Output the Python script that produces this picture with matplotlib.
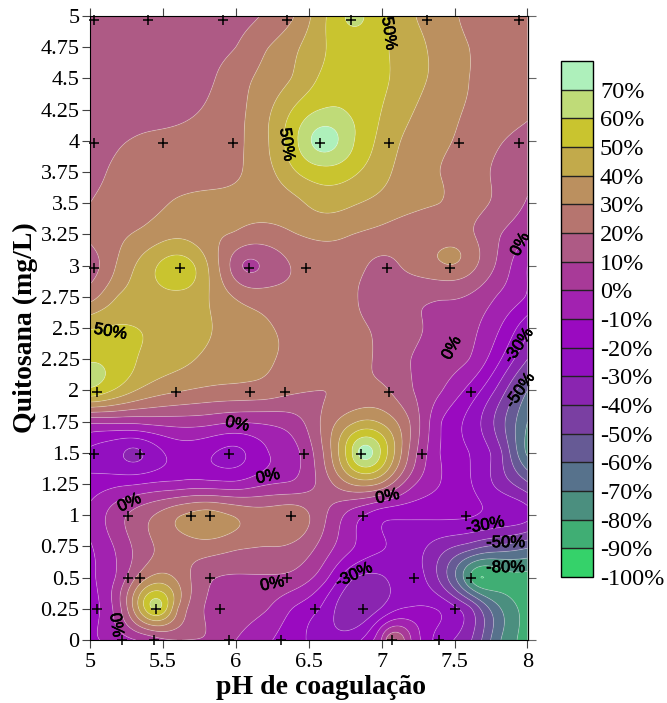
import numpy as np
import matplotlib
matplotlib.use("Agg")
import matplotlib.pyplot as plt
import matplotlib.patheffects as pe

x_cols = [5.0, 5.2, 5.4, 5.6, 5.8, 6.0, 6.2, 6.4, 6.6, 6.8, 7.0, 7.2, 7.4, 7.6, 7.8, 8.0]
y_rows = [5, 4.75, 4.5, 4.25, 4, 3.75, 3.5, 3.25, 3, 2.75, 2.5, 2.25, 2, 1.75, 1.5, 1.25, 1, 0.75, 0.5, 0.25, 0]
z_rows = [
    [12, 13, 14, 11, 15, 17, 21, 30, 48, 62, 53, 41.5, 34, 28, 24, 21],
    [11, 12, 13, 14, 16, 20, 29, 38, 49, 55, 51.5, 45, 36, 30, 25, 22],
    [12, 13, 14, 15, 18, 26, 33, 41, 52, 56, 52, 44, 37, 30, 26, 23],
    [13, 14, 15, 17, 21, 27, 37, 51, 60.5, 58, 50, 41, 34, 29, 25, 22],
    [15, 19, 22, 23, 25, 28, 38, 57, 75, 61, 47, 37, 32, 27, 21, 16],
    [17, 22, 24, 26, 27, 29, 36, 49, 56, 52, 43, 35, 30, 25, 18, 12],
    [20, 24, 27, 31, 32, 32, 33, 37, 44, 41, 37, 33, 30, 24, 18, 9],
    [22, 28, 33, 38, 33, 29, 26, 29.5, 32, 30, 27, 24, 23, 21.5, 11, 1],
    [15, 32, 46, 56, 41, 15, 12, 21, 25, 24, 17, 23, 28, 24, 8, -10],
    [26, 41, 45, 47, 41, 29, 25, 24, 23, 21, 15, 12, 11, 9, -1, -11],
    [49, 51, 49, 46, 41, 36, 31, 28, 25, 22, 18, 12, 8, 3, -9, -27],
    [59, 55, 47, 43, 38, 34, 31, 28, 25, 23, 18, 10, 5, 0, -18, -40],
    [58, 47, 36, 31, 28, 27, 26, 21.5, 20, 21, 22, 11, 1, -13, -33, -60],
    [3, 3, 4, 5, 4, 1, 2, 6, 22, 38, 38, 19, -9, -23, -44, -70],
    [-22, -28, -27, -16, -18, -23, -11, -3, 20, 60, 58, 17, -10, -20, -36, -72],
    [-16, -12, -9, -7, -6, -7, -1, 2, 14, 31, 28, 3, -10, -19, -33, -48],
    [-8, 7, 18, 29, 35, 29, 25, 27, 12, -5, -17, -18, -18, -19, -23, -27],
    [-11, 3, 18, 24, 26, 22, 20, 18, 6, -9, -19, -25, -35, -44, -52, -58],
    [-12, 3, 30, 28, 12, 9, 9, 7, -6, -29, -31, -24, -42, -78, -84, -83],
    [-15, 7, 55, 30, 9, 5, 1, -11, -22, -39, -29, -19, -21, -37, -68, -84],
    [-12, -5, 3, 10, 9, 0, -8, -16, -25, -24, 0, 0, -25, -38, -68, -85],
]
peak_x = [6.6, 5.62, 6.87, 5.45, 7.67, 7.07, 5.3, 6.07, 7.47, 5.72]
peak_y = [4.0, 2.95, 1.5, 0.27, 0.5, 0.0, 1.5, 3.0, 3.08, 0.87]
peak_z = [76, 58, 76, 66, -90.3, 22, -33, 8, 33.5, 33]

meas_x = [5.03, 5.40, 5.91, 6.35, 6.79, 7.31, 7.94,
          5.03, 5.50, 5.98, 6.58, 7.05, 7.53, 7.94,
          5.03, 5.62, 6.09, 6.48, 7.04, 7.47,
          5.05, 5.59, 6.10, 6.34, 7.05, 7.61,
          5.03, 5.34, 5.95, 6.47, 6.86, 7.28,
          5.26, 5.69, 5.82, 6.38, 6.87, 7.58,
          5.26, 5.34, 5.82, 6.35, 7.22, 7.61,
          5.05, 5.45, 5.89, 6.54, 6.87, 7.50,
          5.22, 5.44, 5.95, 6.31, 7.07, 7.39]
meas_y = [4.97] * 7 + [3.98] * 7 + [2.98] * 6 + [1.99] * 6 + [1.49] * 6 + [0.99] * 6 + [0.5] * 6 + [0.25] * 6 + [0.0] * 6

levels = list(range(-100, 81, 10))
band_colors = ["#35d26a", "#40ae74", "#4b8f7f", "#57728c", "#665a95", "#7a3fa2", "#8a25b0", "#9310c0", "#9a0ac0",
               "#a222b0", "#a83a98", "#ae5a85", "#b6756f", "#bb905f", "#c2aa4b", "#c9c42f", "#bfdb78", "#aef0bb"]

label_text = ["50%", "50%", "0%", "50%", "0%", "-30%", "-50%", "0%", "0%", "0%", "0%", "-30%", "-50%", "-80%", "-30%", "0%", "0%"]
label_x = [7.05, 6.35, 7.95, 5.14, 7.48, 7.94, 7.95, 6.01, 6.22, 7.04, 5.27, 7.71, 7.85, 7.85, 6.81, 6.25, 5.18]
label_y = [4.86, 3.97, 3.17, 2.47, 2.34, 2.36, 2.0, 1.73, 1.31, 1.15, 1.10, 0.92, 0.78, 0.58, 0.52, 0.45, 0.12]
label_rot = [-82, -82, 62, -10, 62, 55, 55, -12, 12, 12, 25, 10, 0, 0, 25, 12, -82]

plt.rcParams["font.family"] = "Liberation Serif"
fig = plt.figure(figsize=(6.67, 7.03), dpi=100)
W, H = 667, 703
ax = fig.add_axes([90 / W, 1 - 640 / H, (527.5 - 90) / W, (640 - 16) / H])

# smooth surface through the read values (thin-plate spline)
gx, gy = np.meshgrid(x_cols, y_rows)
px = np.concatenate([gx.ravel(), peak_x])
py = np.concatenate([gy.ravel(), peak_y])
pz = np.concatenate([np.array(z_rows, float).ravel(), peak_z])


def tps_kernel(d2):
    d2 = np.maximum(d2, 1e-12)
    return 0.5 * d2 * np.log(d2)


n = len(px)
K = tps_kernel((px[:, None] - px[None, :]) ** 2 + (py[:, None] - py[None, :]) ** 2) + 1e-3 * np.eye(n)
P = np.column_stack([np.ones(n), px, py])
A = np.block([[K, P], [P.T, np.zeros((3, 3))]])
sol = np.linalg.solve(A, np.concatenate([pz, np.zeros(3)]))
fx = np.linspace(5, 8, 361)
fy = np.linspace(0, 5, 501)
mx, my = np.meshgrid(fx, fy)
mk = tps_kernel((mx.ravel()[:, None] - px[None, :]) ** 2 + (my.ravel()[:, None] - py[None, :]) ** 2)
mz = mk @ sol[:n] + sol[n] + sol[n + 1] * mx.ravel() + sol[n + 2] * my.ravel()
mz = np.clip(mz.reshape(mx.shape), -99.9, 79.9)

cf = ax.contourf(mx, my, mz, levels=levels, colors=band_colors, antialiased=True)
ax.contour(mx, my, mz, levels=levels, colors="#ffffff", linewidths=0.6, alpha=0.28, linestyles="solid")
ax.plot(meas_x, meas_y, "+", color="black", ms=7, mew=1.1, clip_on=False, zorder=5)

for t, x, y, r in zip(label_text, label_x, label_y, label_rot):
    ax.text(x, y, t, rotation=r, ha="center", va="center", fontsize=12,
            family="Liberation Sans", color="black", zorder=6, rotation_mode="anchor",
            path_effects=[pe.withStroke(linewidth=0.5, foreground="black")])

ax.set_xlim(5, 8)
ax.set_ylim(0, 5)
ax.set_xticks([5, 5.5, 6, 6.5, 7, 7.5, 8])
ax.set_xticklabels(["5", "5.5", "6", "6.5", "7", "7.5", "8"])
yt = [0.25 * i for i in range(21)]
ax.set_yticks(yt)
ax.set_yticklabels([f"{v:g}" for v in yt])
ax.tick_params(axis="both", direction="out", length=6, width=0.8, labelsize=16, color="#444444", pad=1.5)
ax.tick_params(axis="x", top=True, pad=3.5)
sec = ax.secondary_yaxis("right")
sec.set_yticks([0.5 * i for i in range(11)])
sec.set_yticklabels([])
sec.tick_params(direction="out", length=6, width=0.8, color="#666666")
fig.text(321 / W, 1 - 688 / H, "pH de coagulação", fontsize=20, fontweight="bold", ha="center", va="center")
fig.text(25 / W, 1 - 328 / H, "Quitosana (mg/L)", fontsize=20, fontweight="bold", ha="center", va="center", rotation=90)

cax = fig.add_axes([561 / W, 1 - 577 / H, 32 / W, (577 - 61) / H])
cb = fig.colorbar(cf, cax=cax, ticks=levels[:-1], drawedges=True)
cb.ax.set_yticklabels([f"{v}%" for v in levels[:-1]])
cb.ax.tick_params(length=0, labelsize=17.5, pad=5)
cb.outline.set_edgecolor("black")
cb.outline.set_linewidth(1)
cb.dividers.set_color("#222222")
cb.dividers.set_linewidth(1)

fig.savefig("out.png", dpi=100)
